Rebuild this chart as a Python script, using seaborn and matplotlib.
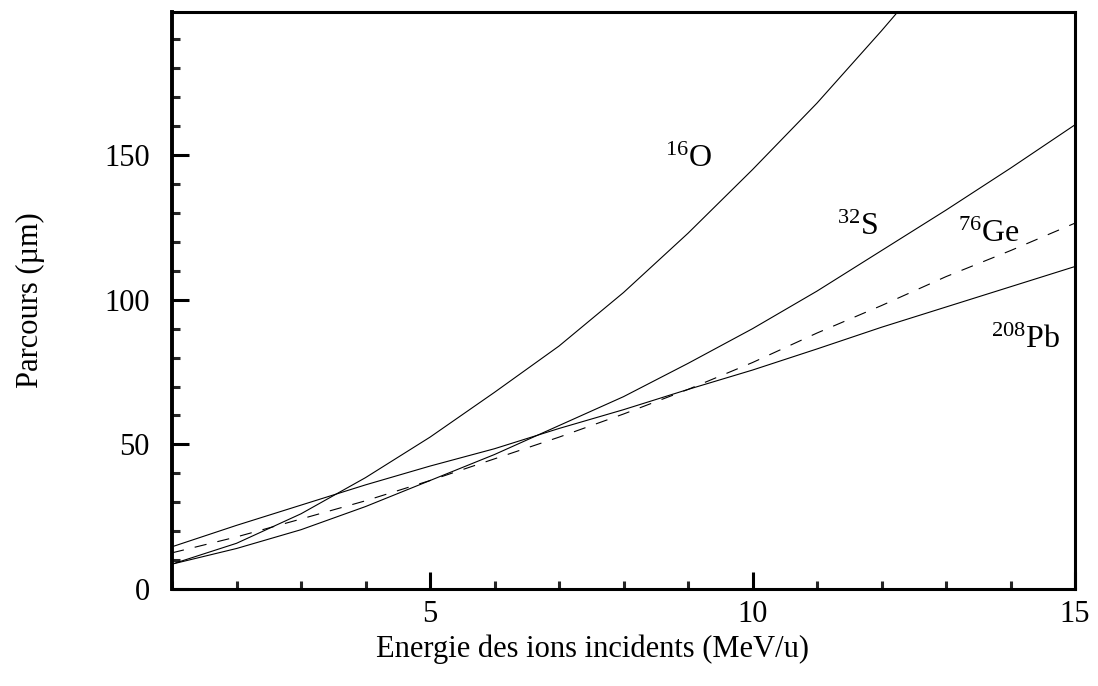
import numpy as np
import pandas as pd
import matplotlib
matplotlib.use("Agg")
import matplotlib.pyplot as plt
import seaborn as sns
from matplotlib.ticker import MultipleLocator

# ---- data ----
energy = [1, 2, 3, 4, 5, 6, 7, 8, 9, 10, 11, 12, 13, 14, 15]
energy_o = [1, 2, 3, 4, 5, 6, 7, 8, 9, 10, 11, 12, 12.25]
range_o = [8.6, 15.8, 26.0, 38.5, 52.5, 68.0, 84.0, 102.5, 123.0, 145.0, 168.0, 193.0, 199.5]
range_s = [8.6, 14.0, 20.5, 28.5, 37.5, 46.5, 56.5, 66.5, 78.0, 90.0, 103.0, 117.0, 131.0, 145.5, 160.5]
range_ge = [12.5, 18.0, 24.2, 30.5, 37.5, 45.0, 52.5, 60.5, 69.0, 78.3, 88.5, 98.0, 108.0, 117.0, 126.5]
range_pb = [14.6, 22.0, 29.0, 36.0, 42.5, 48.5, 55.5, 62.0, 69.0, 75.7, 83.0, 90.5, 97.5, 104.5, 111.5]

labels = [r"$^{\mathrm{16}}$O", r"$^{\mathrm{32}}$S", r"$^{\mathrm{76}}$Ge", r"$^{\mathrm{208}}$Pb"]
label_pos = [(9.01, 148.5), (11.63, 125.0), (13.67, 122.5), (14.23, 86.0)]

x_ticks = [5, 10, 15]
y_ticks = [0, 50, 100, 150]

# ---- style ----
sns.set_theme(style="ticks")
plt.rcParams["font.family"] = ["Liberation Serif", "DejaVu Serif"]
plt.rcParams["mathtext.fontset"] = "custom"
plt.rcParams["mathtext.rm"] = "Liberation Serif"
plt.rcParams["mathtext.it"] = "Liberation Serif:italic"

fig = plt.figure(figsize=(10.98, 6.86), dpi=100)
ax = fig.add_axes([172 / 1098, 1 - 589 / 686, (1075 - 172) / 1098, (589 - 12) / 686])

df_o = pd.DataFrame({"E": energy_o, "R": range_o})
df_s = pd.DataFrame({"E": energy, "R": range_s})
df_ge = pd.DataFrame({"E": energy, "R": range_ge})
df_pb = pd.DataFrame({"E": energy, "R": range_pb})

lw = 0.8
sns.lineplot(data=df_o, x="E", y="R", ax=ax, color="black", lw=lw)
sns.lineplot(data=df_s, x="E", y="R", ax=ax, color="black", lw=lw)
sns.lineplot(data=df_ge, x="E", y="R", ax=ax, color="black", lw=lw, dashes=False,
             linestyle=(0, (11, 10)))
sns.lineplot(data=df_pb, x="E", y="R", ax=ax, color="black", lw=lw)

ax.set_xlim(1, 15)
ax.set_ylim(0, 199.5)

ax.set_xticks(x_ticks)
ax.set_yticks(y_ticks)
ax.xaxis.set_minor_locator(MultipleLocator(1))
ax.yaxis.set_minor_locator(MultipleLocator(10))

ax.tick_params(axis="both", which="major", direction="in", length=12, width=2.2,
               labelsize=22, colors="black")
ax.tick_params(axis="both", which="minor", direction="in", length=6, width=2.2)
ax.tick_params(axis="x", which="major", pad=8)
ax.tick_params(axis="y", which="major", pad=16)

for side in ["top", "right", "bottom"]:
    ax.spines[side].set_linewidth(2.2)
    ax.spines[side].set_color("black")
ax.spines["left"].set_linewidth(2.8)
ax.spines["left"].set_color("black")

ax.set_xlabel("Energie des ions incidents (MeV/u)", fontsize=22, color="black")
ax.set_ylabel("Parcours (µm)", fontsize=22, color="black")
ax.xaxis.set_label_coords((592 - 172) / (1075 - 172), -(649 - 589) / (589 - 12))
ax.xaxis.label.set_va("center")
ax.yaxis.set_label_coords(-(172 - 30) / (1075 - 172), 0.5)
ax.yaxis.label.set_va("center")

for lab, (xx, yy) in zip(labels, label_pos):
    ax.text(xx, yy, lab, fontsize=23, ha="center", va="center", color="black")

fig.savefig("out.png", dpi=100)
